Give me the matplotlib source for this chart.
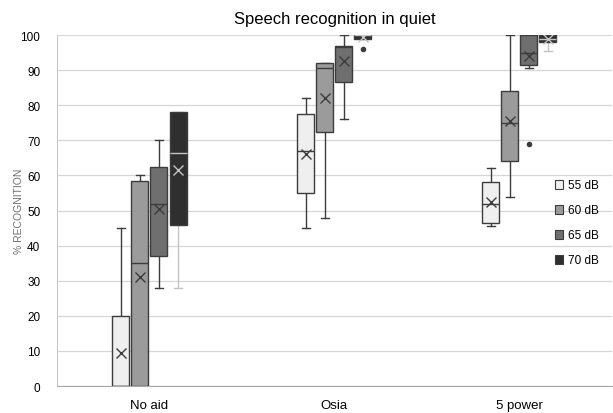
import matplotlib
matplotlib.use("Agg")
import matplotlib.pyplot as plt
from matplotlib.patches import Patch

plt.rcParams['font.family'] = ['Liberation Sans', 'DejaVu Sans']

groups = ["No aid", "Osia", "5 power"]
levels = ["55 dB", "60 dB", "65 dB", "70 dB"]

# per level: values for [No aid, Osia, 5 power]
whislo = [[0, 45, 45.5], [0, 48, 54], [28, 76, 90.5], [28, 99, 95.5]]
q1 = [[0, 55, 46.5], [0, 72.5, 64], [37, 86.5, 91.5], [46, 99, 98]]
med = [[0, 67, 52], [35, 90.5, 75], [52, 96.5, 95], [66.5, 100, 99]]
q3 = [[20, 77.5, 58], [58.5, 92, 84], [62.5, 97, 100], [78, 100, 100]]
whishi = [[45, 82, 62], [60, 92, 100], [70, 100, 100], [78, 100, 100]]
means = [[9.5, 66, 52.5], [31, 82, 75.5], [50.5, 92.5, 94], [61.5, 99.5, 99]]
fliers = [[[], [], []], [[], [], []], [[], [], [69]], [[], [96], []]]

fills = ["#efefef", "#9b9b9b", "#6f6f6f", "#2f2f2f"]
edge = "#3c3c3c"
light = "#c4c4c4"

fig = plt.figure(figsize=(6.13, 4.14), dpi=100)
ax = fig.add_axes([0.093, 0.065, 0.905, 0.848])

step = 0.103
for i, lev in enumerate(levels):
    stats = []
    for g in range(len(groups)):
        stats.append(dict(med=med[i][g], q1=q1[i][g], q3=q3[i][g],
                          whislo=whislo[i][g], whishi=whishi[i][g],
                          mean=means[i][g], fliers=fliers[i][g]))
    pos = [g + (i - 1.5) * step for g in range(len(groups))]
    lc = light if i == 3 else edge
    ax.bxp(stats, positions=pos, widths=0.092, patch_artist=True,
           showmeans=True, capwidths=0.045,
           boxprops=dict(facecolor=fills[i], edgecolor=edge, linewidth=1.0, zorder=3),
           whiskerprops=dict(color=lc, linewidth=1.0, zorder=2),
           capprops=dict(color=lc, linewidth=1.0, zorder=2),
           medianprops=dict(color=lc, linewidth=1.0, zorder=4),
           meanprops=dict(marker="x", markeredgecolor=lc, markersize=7.5,
                          markeredgewidth=1.0, zorder=5),
           flierprops=dict(marker="o", markerfacecolor=edge, markeredgecolor=edge,
                           markersize=3),
           manage_ticks=False)

ax.set_xlim(-0.5, 2.5)
ax.set_ylim(0, 100)
ax.set_yticks(range(0, 101, 10))
ax.set_xticks(range(len(groups)))
ax.set_xticklabels(groups, fontsize=9.5)
ax.tick_params(axis="y", labelsize=8.5, length=0, pad=12)
ax.tick_params(axis="x", length=0, pad=9)
ax.yaxis.grid(True, color="#d6d6d6", linewidth=0.9)
ax.set_axisbelow(True)
for s in ["top", "right"]:
    ax.spines[s].set_visible(False)
ax.spines["left"].set_color("#c8c8c8")
ax.spines["bottom"].set_color("#a8a8a8")
ax.set_ylabel("% RECOGNITION", fontsize=7.5, color="#707070")
ax.yaxis.set_label_coords(-0.06, 0.5)
ax.set_title("Speech recognition in quiet", fontsize=12, pad=9)

handles = [Patch(facecolor=fills[i], edgecolor=edge, linewidth=0.8, label=levels[i])
           for i in range(len(levels))]
ax.legend(handles=handles, loc="center left", bbox_to_anchor=(0.897, 0.465),
          frameon=False, fontsize=8.5, handlelength=0.75, handleheight=0.75,
          handletextpad=0.35, labelspacing=1.1, borderaxespad=0, borderpad=0)

fig.savefig("out.png", dpi=100)
